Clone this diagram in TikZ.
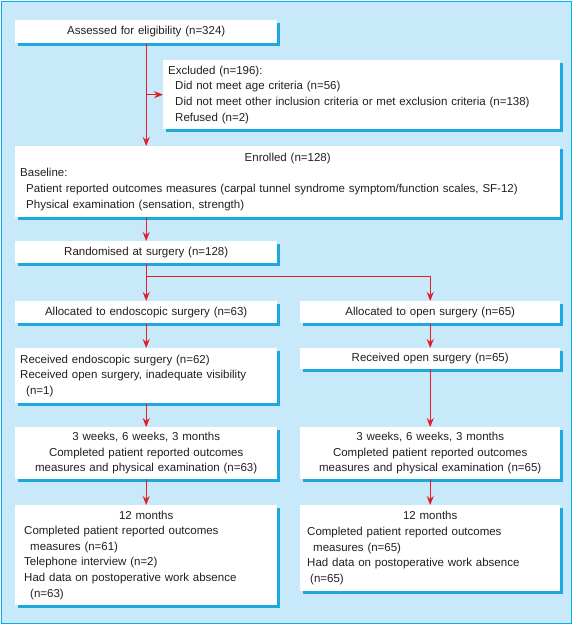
\documentclass[tikz,border=0pt]{standalone}
\usepackage{fontspec}
\setmainfont{Liberation Sans}
\usetikzlibrary{arrows.meta,shadows,calc}
\definecolor{bgblue}{RGB}{199,233,250}
\definecolor{frameblue}{RGB}{0,174,239}
\definecolor{shadowblue}{RGB}{30,168,224}
\definecolor{arrred}{RGB}{226,30,38}
\definecolor{txt}{RGB}{35,31,32}
\begin{document}
\begin{tikzpicture}[x=1pt,y=-1pt,
  every node/.style={font=\fontsize{11.5}{15.6}\selectfont, text=txt},
  box/.style={fill=white, anchor=north west, inner ysep=0pt,
    drop shadow={shadow xshift=2.5pt, shadow yshift=-2.5pt, fill=shadowblue, opacity=1}},
  arr/.style={draw=arrred, line width=1pt, -{Stealth[length=9pt,width=7pt,inset=3pt]}}]
\useasboundingbox (0,0) rectangle (576,626);
\fill[white] (0,0) rectangle (576,626);
\draw[fill=bgblue, draw=frameblue, line width=1.5pt] (1.5,1.5) rectangle (571.5,623.5);

\node[box, minimum height=23pt, text width=252pt, inner xsep=5pt, align=center] (assess) at (15,20)
  {Assessed for eligibility (n=324)};
\node[box, minimum height=69pt, text width=387pt, inner xsep=5pt, align=left] (excl) at (163,60)
  {Excluded (n=196):\\
   \hspace*{7pt}Did not meet age criteria (n=56)\\
   \hspace*{7pt}Did not meet other inclusion criteria or met exclusion criteria (n=138)\\
   \hspace*{7pt}Refused (n=2)};
\node[box, minimum height=71pt, text width=535pt, inner xsep=5pt, align=left] (enrol) at (15,146)
  {\makebox[\linewidth][c]{Enrolled (n=128)}\\
   Baseline:\\
   \hspace*{6pt}Patient reported outcomes measures (carpal tunnel syndrome symptom/function scales, SF-12)\\
   \hspace*{6pt}Physical examination (sensation, strength)};
\node[box, minimum height=22pt, text width=252pt, inner xsep=5pt, align=center] (rand) at (15,241)
  {Randomised at surgery (n=128)};
\node[box, minimum height=22pt, text width=252pt, inner xsep=5pt, align=center] (alloce) at (15,301)
  {Allocated to endoscopic surgery (n=63)};
\node[box, minimum height=22pt, text width=250pt, inner xsep=5pt, align=center] (alloco) at (300,301)
  {Allocated to open surgery (n=65)};
\node[box, minimum height=55pt, text width=252pt, inner xsep=5pt, align=left] (rece) at (15,348)
  {Received endoscopic surgery (n=62)\\
   Received open surgery, inadequate visibility\\
   \hspace*{6pt}(n=1)};
\node[box, minimum height=21pt, text width=250pt, inner xsep=5pt, align=center] (reco) at (300,348)
  {Received open surgery (n=65)};
\node[box, minimum height=52pt, text width=252pt, inner xsep=5pt, align=center] (wke) at (15,427)
  {3 weeks, 6 weeks, 3 months\\
   Completed patient reported outcomes\\
   measures and physical examination (n=63)};
\node[box, minimum height=52pt, text width=250pt, inner xsep=5pt, align=center] (wko) at (300,427)
  {3 weeks, 6 weeks, 3 months\\
   Completed patient reported outcomes\\
   measures and physical examination (n=65)};
\node[box, minimum height=100pt, text width=244pt, inner xsep=9pt, align=left] (me) at (15,505)
  {\makebox[\linewidth][c]{12 months}\\
   Completed patient reported outcomes\\
   \hspace*{6pt}measures (n=61)\\
   Telephone interview (n=2)\\
   Had data on postoperative work absence\\
   \hspace*{6pt}(n=63)};
\node[box, minimum height=86pt, text width=246pt, inner xsep=7pt, align=left] (mo) at (300,505)
  {\makebox[\linewidth][c]{12 months}\\
   Completed patient reported outcomes\\
   \hspace*{6pt}measures (n=65)\\
   Had data on postoperative work absence\\
   \hspace*{3pt}(n=65)};

\coordinate (exclbranch) at (assess.south |- excl.west);
\coordinate (split) at ($(rand.south)+(0,13)$);
\draw[arr] (assess.south) -- (assess.south |- enrol.north);
\draw[arr] (exclbranch) -- (excl.west);
\draw[arr] (rand.north |- enrol.south) -- (rand.north);
\draw[arr] (rand.south) -- (alloce.north);
\draw[arr] (split) -| (alloco.north);
\draw[arr] (alloce.south) -- (rece.north);
\draw[arr] (alloco.south) -- (reco.north);
\draw[arr] (rece.south) -- (wke.north);
\draw[arr] (reco.south) -- (wko.north);
\draw[arr] (wke.south) -- (me.north);
\draw[arr] (wko.south) -- (mo.north);
\end{tikzpicture}
\end{document}
